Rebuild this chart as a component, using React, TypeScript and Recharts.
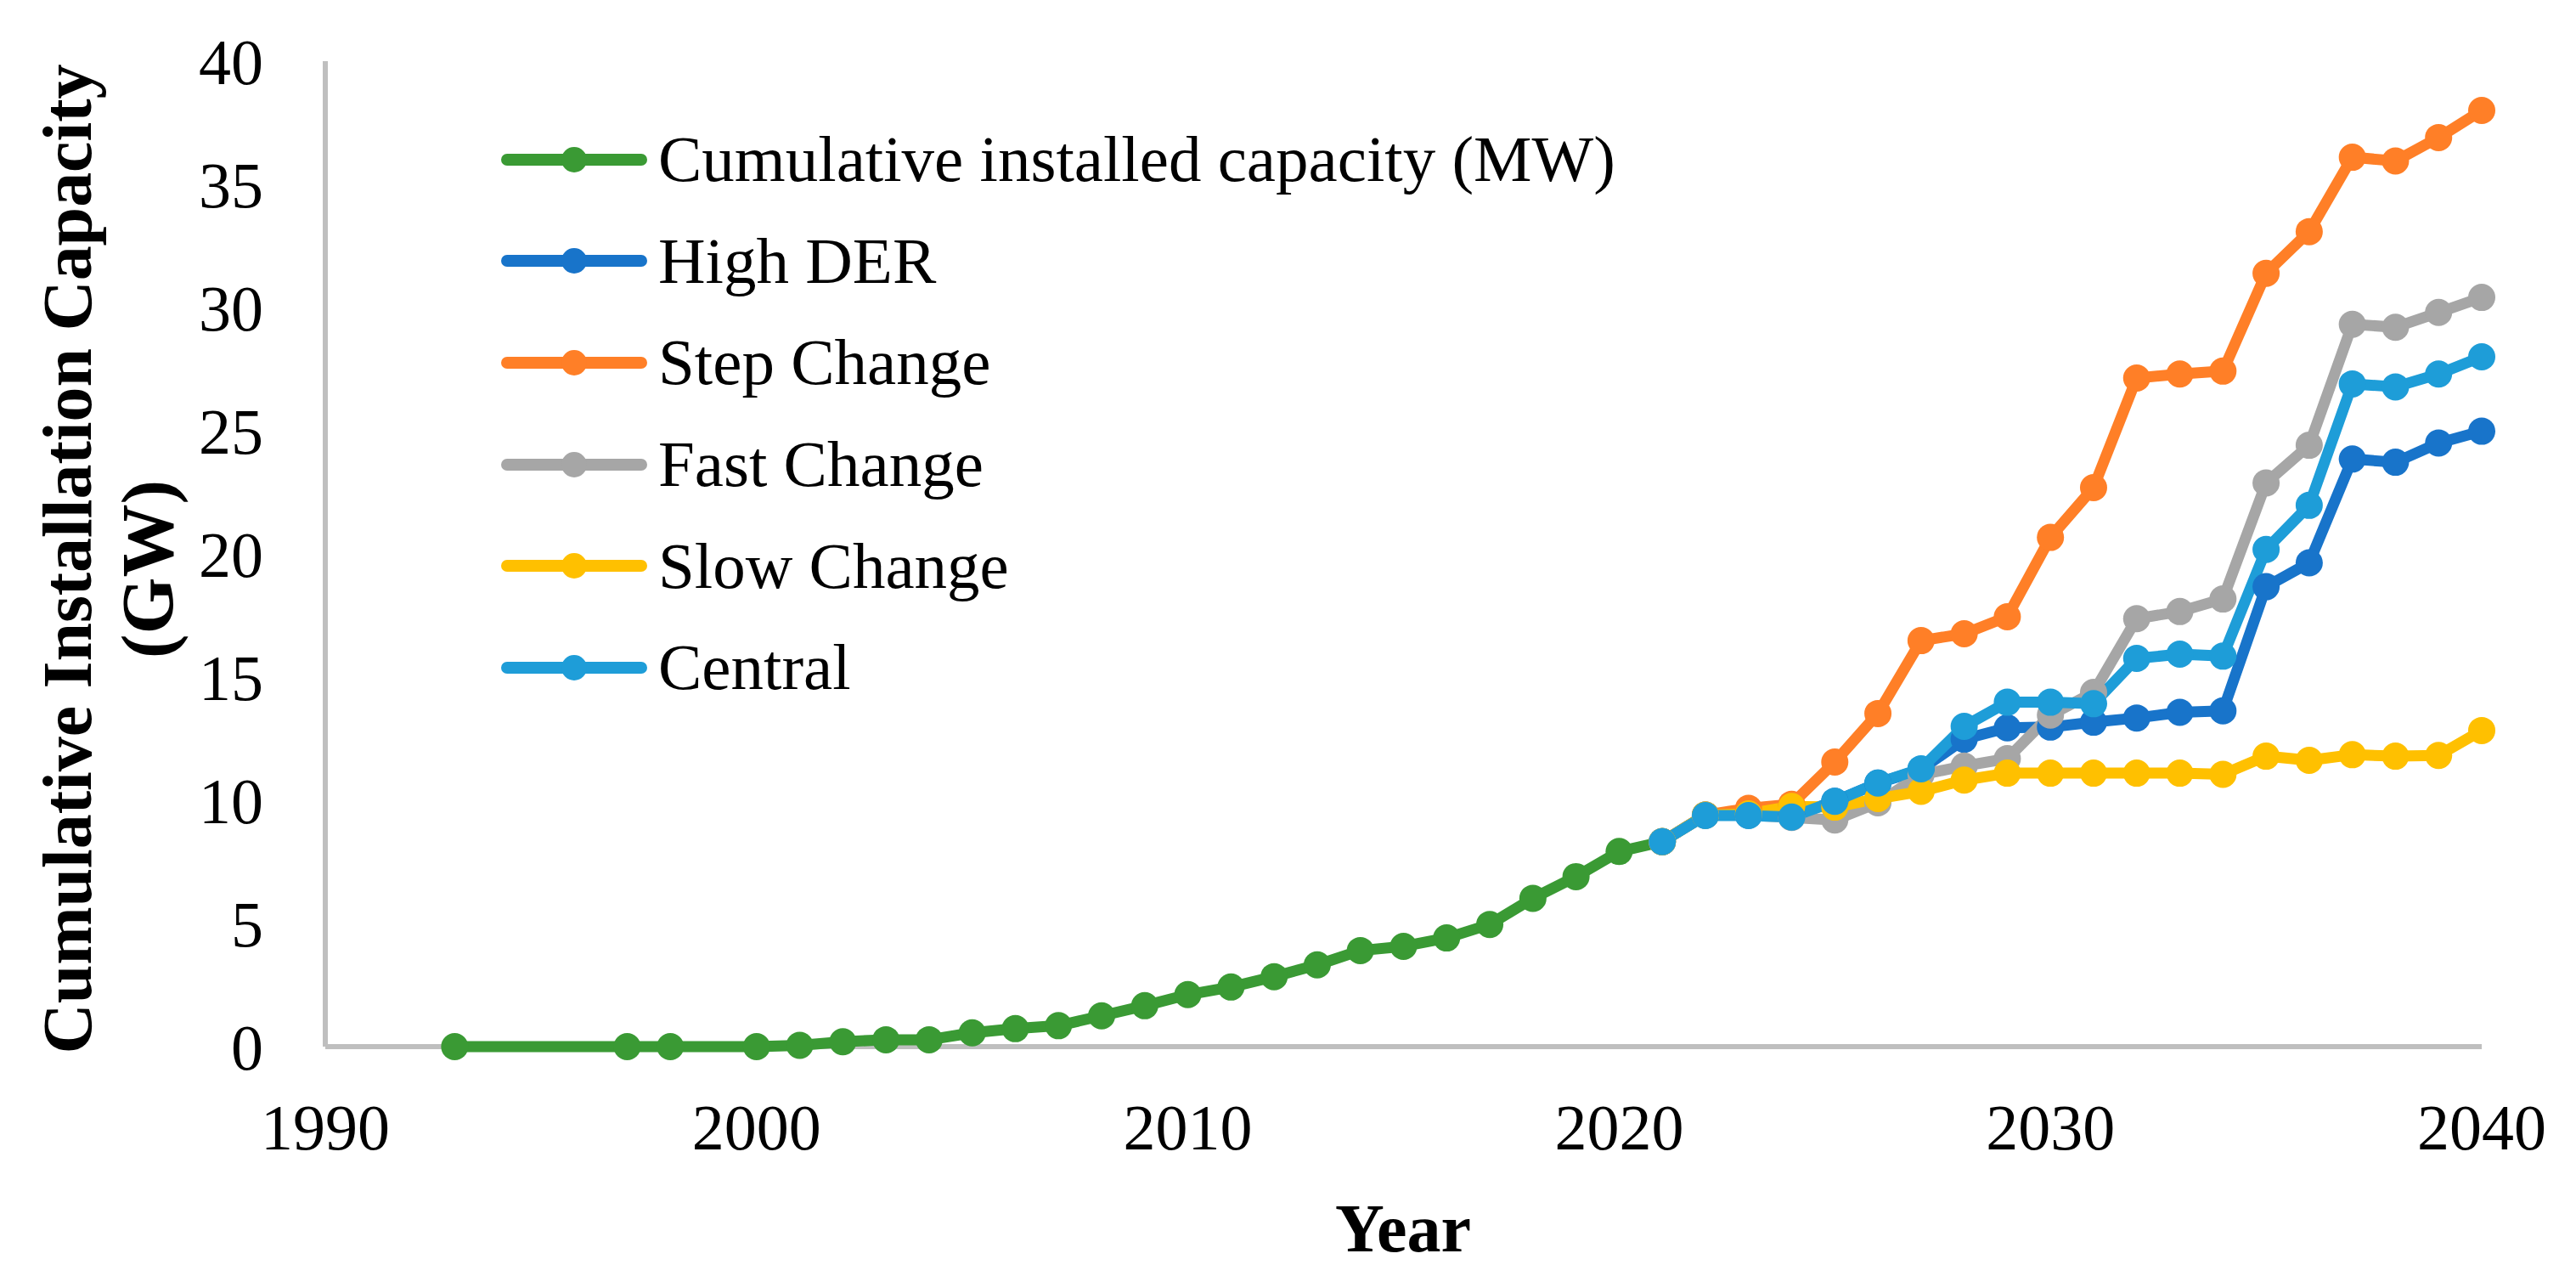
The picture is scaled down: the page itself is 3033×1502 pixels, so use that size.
import { CartesianGrid, Label, Legend, Line, LineChart, XAxis, YAxis } from "recharts";

// historical cumulative installs (GW)
const historyYears = [
  1993, 1997, 1998, 2000, 2001, 2002, 2003, 2004, 2005, 2006, 2007, 2008, 2009,
  2010, 2011, 2012, 2013, 2014, 2015, 2016, 2017, 2018, 2019, 2020, 2021,
];
const historyValues = [
  0, 0, 0, 0, 0.05, 0.2, 0.28, 0.28, 0.56, 0.73, 0.85, 1.25, 1.66, 2.11, 2.42,
  2.84, 3.32, 3.9, 4.07, 4.41, 4.96, 6.02, 6.9, 7.92, 8.32,
];

// scenario projections
const scenarioYears = [
  2021, 2022, 2023, 2024, 2025, 2026, 2027, 2028, 2029, 2030, 2031, 2032, 2033,
  2034, 2035, 2036, 2037, 2038, 2039, 2040,
];
const highDer = [
  8.32, 9.4, 9.4, 9.35, 9.96, 10.7, 11.25, 12.48, 12.94, 12.97, 13.17, 13.34,
  13.57, 13.63, 18.67, 19.64, 23.85, 23.72, 24.5, 24.98,
];
const stepChange = [
  8.32, 9.4, 9.67, 9.84, 11.55, 13.52, 16.48, 16.76, 17.45, 20.67, 22.69, 27.14,
  27.3, 27.42, 31.39, 33.08, 36.1, 35.95, 36.9, 38.0,
];
const fastChange = [
  8.32, 9.4, 9.4, 9.3, 9.2, 9.9, 11.04, 11.39, 11.69, 13.46, 14.38, 17.37, 17.66,
  18.17, 22.88, 24.41, 29.32, 29.2, 29.8, 30.41,
];
const slowChange = [
  8.32, 9.4, 9.45, 9.75, 9.72, 10.07, 10.36, 10.82, 11.1, 11.1, 11.1, 11.1, 11.1,
  11.05, 11.79, 11.62, 11.85, 11.79, 11.82, 12.83,
];
const central = [
  8.32, 9.38, 9.38, 9.32, 9.96, 10.7, 11.28, 13.0, 13.98, 13.98, 13.92, 15.76,
  15.93, 15.85, 20.18, 21.97, 26.9, 26.78, 27.3, 28.0,
];

const xTicks = [1990, 2000, 2010, 2020, 2030, 2040];
const yTicks = [0, 5, 10, 15, 20, 25, 30, 35, 40];

const toPoints = (years: number[], values: number[]) =>
  years.map((year, i) => ({ year, value: values[i] }));

const series = [
  { name: "Cumulative installed capacity (MW)", color: "#3A9A34", data: toPoints(historyYears, historyValues) },
  { name: "High DER", color: "#1874CA", data: toPoints(scenarioYears, highDer) },
  { name: "Step Change", color: "#FF7F27", data: toPoints(scenarioYears, stepChange) },
  { name: "Fast Change", color: "#A6A6A6", data: toPoints(scenarioYears, fastChange) },
  { name: "Slow Change", color: "#FFC000", data: toPoints(scenarioYears, slowChange) },
  { name: "Central", color: "#1E9DD8", data: toPoints(scenarioYears, central) },
];
const seriesOrder = series.map((s) => s.name);

const FONT = "'Liberation Serif', 'Times New Roman', serif";
const AXIS_GREY = "#BFBFBF";

// recharts sorts legend items by name, keep the series order instead
const LegendBox = ({ payload }: any) => {
  const items = [...(payload || [])].sort(
    (a: any, b: any) => seriesOrder.indexOf(a.value) - seriesOrder.indexOf(b.value)
  );
  return (
    <div style={{ fontFamily: FONT }}>
      {items.map((entry: any) => (
        <div key={entry.value} style={{ display: "flex", alignItems: "center", height: 119.6 }}>
          <svg width={174} height={40} style={{ display: "block" }}>
            <line x1={8} y1={20} x2={166} y2={20} stroke={entry.color} strokeWidth={14} strokeLinecap="round" />
            <circle cx={87} cy={20} r={15} fill={entry.color} />
          </svg>
          <span style={{ marginLeft: 12, fontSize: 77, color: "#000", lineHeight: 1, whiteSpace: "nowrap" }}>
            {entry.value}
          </span>
        </div>
      ))}
    </div>
  );
};

export default function App() {
  return (
    <div style={{ position: "absolute", left: 0, top: 0, background: "#fff" }}>
      <LineChart width={3033} height={1502} margin={{ top: 72, right: 111, bottom: 170, left: 0 }}>
        {/* baseline drawn as a grid line so the series sit on top of it */}
        <CartesianGrid
          vertical={false}
          horizontalValues={[0]}
          stroke={AXIS_GREY}
          strokeWidth={6}
          strokeDasharray=""
        />
        <XAxis
          dataKey="year"
          type="number"
          domain={[1990, 2040]}
          ticks={xTicks}
          allowDuplicatedCategory={false}
          height={100}
          tickLine={false}
          tickSize={0}
          tickMargin={67}
          axisLine={false}
          tick={{ fill: "#000", fontSize: 76, fontFamily: FONT }}
        >
          <Label
            content={() => (
              <text x={1652} y={1473} textAnchor="middle" fontFamily={FONT} fontWeight="bold" fontSize={80} fill="#000">
                Year
              </text>
            )}
          />
        </XAxis>
        <YAxis
          type="number"
          domain={[0, 40]}
          ticks={yTicks}
          width={383}
          tickLine={false}
          tickSize={0}
          tickMargin={73}
          axisLine={{ stroke: AXIS_GREY, strokeWidth: 6 }}
          tick={{ fill: "#000", fontSize: 76, fontFamily: FONT }}
        >
          <Label
            content={() => (
              <g fontFamily={FONT} fontWeight="bold" fill="#000">
                <text
                  transform="translate(107,658) rotate(-90)"
                  textAnchor="middle"
                  fontSize={82}
                  textLength={1165}
                  lengthAdjust="spacing"
                >
                  Cumulative Installation Capacity
                </text>
                <text transform="translate(203,670) rotate(-90)" textAnchor="middle" fontSize={86}>
                  (GW)
                </text>
              </g>
            )}
          />
        </YAxis>
        <Legend
          layout="vertical"
          align="center"
          verticalAlign="middle"
          content={<LegendBox />}
          wrapperStyle={{ left: 589, top: 128, width: 1400, height: 720 }}
        />
        {series.map((s) => (
          <Line
            key={s.name}
            name={s.name}
            data={s.data}
            dataKey="value"
            type="linear"
            stroke={s.color}
            strokeWidth={13}
            strokeLinejoin="round"
            strokeLinecap="round"
            dot={{ r: 16, fill: s.color, stroke: s.color, strokeWidth: 0 }}
            activeDot={false}
            isAnimationActive={false}
          />
        ))}
      </LineChart>
    </div>
  );
}
